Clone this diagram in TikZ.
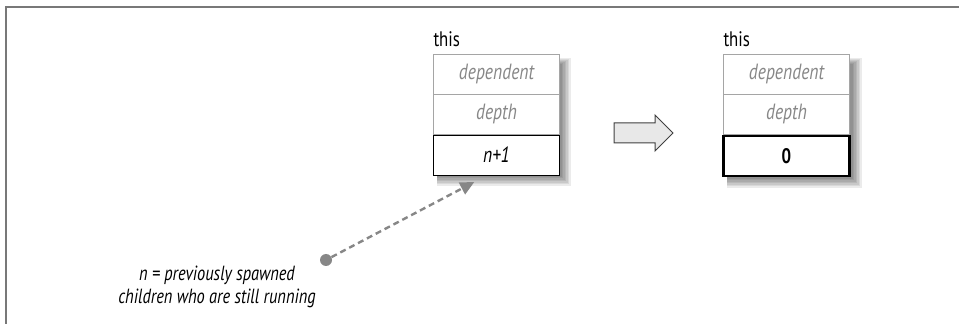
\documentclass[tikz,border=0pt]{standalone}
\usepackage{fontspec}
\setmainfont[FakeStretch=0.8]{PT Sans}
\usetikzlibrary{arrows.meta, positioning, calc, backgrounds}
\definecolor{framegray}{RGB}{120,120,120}
\definecolor{softgray}{RGB}{135,135,135}
\definecolor{linegray}{RGB}{165,165,165}
\definecolor{arrowfill}{RGB}{232,232,232}

\begin{document}
\begin{tikzpicture}[x=1pt, y=1pt,
  cell/.style  = {draw=linegray, fill=white, minimum width=126pt, minimum height=40pt,
                  inner sep=0pt, font=\itshape\fontsize{22}{24}\selectfont, text=softgray},
  cnt/.style   = {cell, draw=black, text=black},
  lbl/.style   = {inner sep=0pt, font=\fontsize{21}{24}\selectfont},
  shade/.style = {fill=black, opacity=0.08},
  hint/.style  = {draw=softgray, line width=2.4pt, dash pattern=on 6pt off 4pt,
                  -{Triangle[length=14pt, width=13pt]}}
]
\useasboundingbox (0,0) rectangle (959,324);
\draw[framegray, line width=2.5pt] (6,0) -- (6,317) -- (959,317);

% before
\node[cell] (dep1) at (496.5,250) {dependent};
\node[cell, below=0pt of dep1] (dpt1) {depth};
\node[cnt, below=0pt of dpt1] (cnt1) {n+1};
\node[lbl, above right=7pt and 0pt of dep1.north west] (this1) {this};

% after
\node[cell] (dep2) at (786.5,250) {dependent};
\node[cell, below=0pt of dep2] (dpt2) {depth};
\node[cnt, line width=2.2pt, font=\bfseries\fontsize{21}{24}\selectfont, below=0pt of dpt2] (cnt2) {0};
\node[lbl, above right=7pt and 0pt of dep2.north west] (this2) {this};

\begin{scope}[on background layer]
\foreach \b in {1,2}
  \foreach \k in {0,...,6}
    \fill[shade] ($(dep\b.north west)+(4,-10+\k)$) rectangle ($(cnt\b.south east)+(2+1.5*\k,-2-1.5*\k)$);
\end{scope}

\coordinate (go) at (614,191);
\draw[black!75, line width=1pt, fill=arrowfill] (go) ++(0,10) -- ++(41,0) -- ++(0,8) -- ++(18,-18)
  -- ++(-18,-18) -- ++(0,8) -- ++(-41,0) -- cycle;

\node[circle, fill=softgray, inner sep=0pt, minimum size=12pt] (dot) at (326,64) {};
\node[align=center, font=\itshape\fontsize{20.5}{23}\selectfont] (note) at (217,37)
  {n = previously spawned\\children who are still running};
\draw[hint] (dot) -- ([shift={(41pt,-7pt)}]cnt1.south west);
\end{tikzpicture}
\end{document}
